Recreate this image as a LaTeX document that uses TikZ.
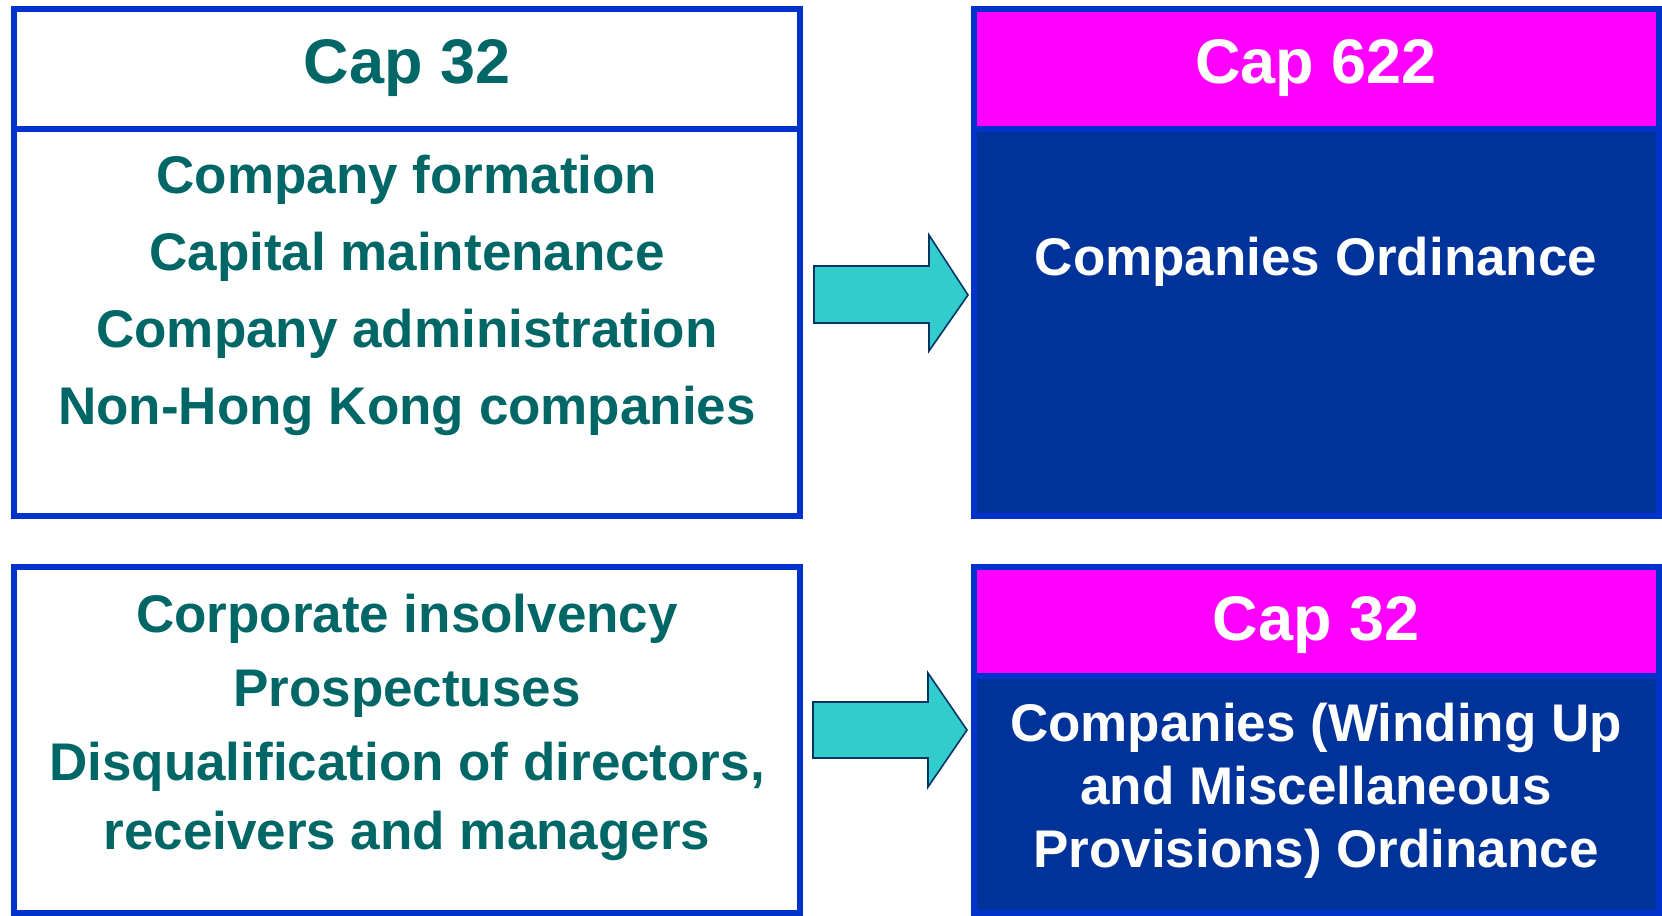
\documentclass[tikz,border=0pt]{standalone}
\usepackage{fontspec}
\setmainfont{Liberation Sans}
\definecolor{bordblue}{HTML}{0033CC}
\definecolor{darkfill}{HTML}{003399}
\definecolor{pinkfill}{HTML}{FF00FF}
\definecolor{tealtext}{HTML}{006666}
\definecolor{arrowfill}{HTML}{33CCCC}
\definecolor{arrowline}{HTML}{003366}
\begin{document}
\begin{tikzpicture}[x=0.5pt,y=-0.5pt,
  frame/.style={draw=bordblue,line width=3pt},
  body/.style={anchor=base,font=\fontsize{26.5}{30}\selectfont\bfseries,inner sep=0pt},
  title/.style={anchor=base,font=\fontsize{31.5}{36}\selectfont\bfseries,inner sep=0pt},
  lefttxt/.style={text=tealtext},
  righttxt/.style={text=white},
  blockarrow/.style={fill=arrowfill,draw=arrowline,line width=0.8pt,line join=miter}]
\useasboundingbox (0,0) rectangle (1662,916);
% top-left box
\draw[frame] (14,9) rectangle (800,516);
\draw[frame] (14,129) -- (800,129);
% top-right box
\fill[pinkfill] (974,9) rectangle (1659,129);
\fill[darkfill] (974,129) rectangle (1659,516);
\draw[frame] (974,9) rectangle (1659,516);
\draw[frame] (974,129) -- (1659,129);
% bottom-left box
\draw[frame] (14,567) rectangle (800,913);
% bottom-right box
\fill[pinkfill] (974,567) rectangle (1659,676);
\fill[darkfill] (974,676) rectangle (1659,913);
\draw[frame] (974,567) rectangle (1659,913);
\draw[frame] (974,676) -- (1659,676);
% texts top-left
\node[title,lefttxt] (tlT) at (407,83) {Cap 32};
\node[body,lefttxt] (tl1) at (407,193) {Company formation};
\node[body,lefttxt] (tl2) at (407,270) {Capital maintenance};
\node[body,lefttxt] (tl3) at (407,347) {Company administration};
\node[body,lefttxt] (tl4) at (407,424) {Non-Hong Kong companies};
% texts top-right
\node[title,righttxt] (trT) at (1316,83) {Cap 622};
\node[body,righttxt] (tr1) at (1316,275) {Companies Ordinance};
% texts bottom-left
\node[body,lefttxt] (bl1) at (407,632) {Corporate insolvency};
\node[body,lefttxt] (bl2) at (407,706) {Prospectuses};
\node[body,lefttxt] (bl3) at (407,780) {Disqualification of directors,};
\node[body,lefttxt] (bl4) at (407,849) {receivers and managers};
% texts bottom-right
\node[title,righttxt] (brT) at (1316,640) {Cap 32};
\node[body,righttxt] (br1) at (1316,741) {Companies (Winding Up};
\node[body,righttxt] (br2) at (1316,804) {and Miscellaneous};
\node[body,righttxt] (br3) at (1316,867) {Provisions) Ordinance};
% arrows
\draw[blockarrow] (814,266) -- (929,266) -- (929,235) -- (968,295) -- (929,351) -- (929,323) -- (814,323) -- cycle;
\draw[blockarrow] (813,702) -- (928,702) -- (928,673) -- (967,730) -- (928,787) -- (928,758) -- (813,758) -- cycle;
\end{tikzpicture}
\end{document}
